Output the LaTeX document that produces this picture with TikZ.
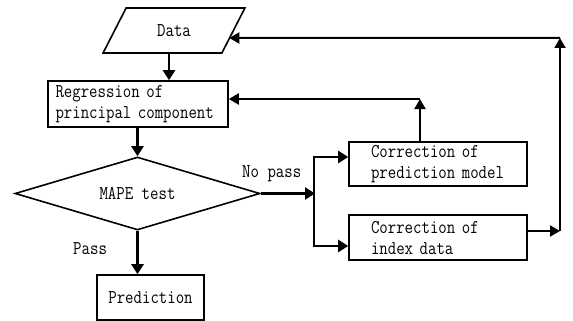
\documentclass[tikz,border=0pt]{standalone}
\usepackage{fontspec}
\setmainfont{Latin Modern Mono}[FakeStretch=0.84]
\usetikzlibrary{arrows.meta,shapes.geometric,calc}
\begin{document}
\begin{tikzpicture}[x=1pt,y=-1pt,
  box/.style={draw,line width=1.6pt,rectangle,inner sep=0pt},
  arr/.style={line width=2.6pt,-{Triangle[length=10pt,width=12pt]}},
  farr/.style={line width=2pt,-{Triangle[length=10pt,width=11pt]}},
  plain/.style={line width=2.6pt},
  lab/.style={inner sep=0pt,anchor=base west},
  font=\fontsize{19.5}{21}\selectfont]
\useasboundingbox (0,0) rectangle (573,321);

\node[draw, trapezium, trapezium left angle=56, trapezium right angle=124,
      trapezium stretches=true, minimum width=142pt, minimum height=45pt,
      line width=1.6pt, inner sep=0pt] (data) at (174,30.5) {\raisebox{-2pt}{Data}};
\node[box, minimum width=180pt, minimum height=46pt, text width=165pt, align=left]
      (reg) at (138,104) {Regression of\\principal component};
\node[draw, diamond, line width=1.6pt, minimum width=245pt, minimum height=73pt,
      inner sep=0pt, shape aspect=3.36] (dia) at (137.5,193.5) {MAPE test};
\node[box, minimum width=107pt, minimum height=45pt] (pred) at (150.5,297.5) {Prediction};
\node[box, minimum width=178pt, minimum height=44pt, text width=134pt, align=left]
      (cpm) at (438,164) {Correction of\\prediction model};
\node[box, minimum width=178pt, minimum height=45pt, text width=134pt, align=left]
      (cid) at (438,237.5) {Correction of\\index data};

\node[lab] (lnopass) at (242,177) {No pass};
\node[lab] (lpass) at (73,254) {Pass};

% main flow
\coordinate (d1) at ($(data.south)+(-5,0)$);
\draw[arr] (d1) -- (d1 |- reg.north);
\draw[arr] (dia.north |- reg.south) -- (dia.north);
\draw[arr] (dia.south) -- (dia.south |- pred.north);

% split
\coordinate (J) at (315,193.5);
\coordinate (J1) at (314,157);
\coordinate (J2) at (314,246);
\draw[arr] (dia.east) -- (J);
\draw[plain] ($(J1)+(0,-1.3)$) -- ($(J2)+(0,1.3)$);
\draw[arr] (J1) -- (J1 -| cpm.west);
\draw[arr] (J2) -- (J2 -| cid.west);

% feedback 1
\coordinate (K) at (420,99);
\draw[farr] (cpm.north -| K) -- (K);
\draw[farr] (K) -- (K -| reg.east);

% feedback 2
\coordinate (M1) at (560,231);
\coordinate (M2) at (560,38);
\coordinate (dR) at ($(data.east)+(-5,7.5)$);
\draw[farr] (M1 -| cid.east) -- (M1);
\draw[farr] (M1) -- (M2);
\draw[farr] (M2) -- (dR);
\end{tikzpicture}
\end{document}
